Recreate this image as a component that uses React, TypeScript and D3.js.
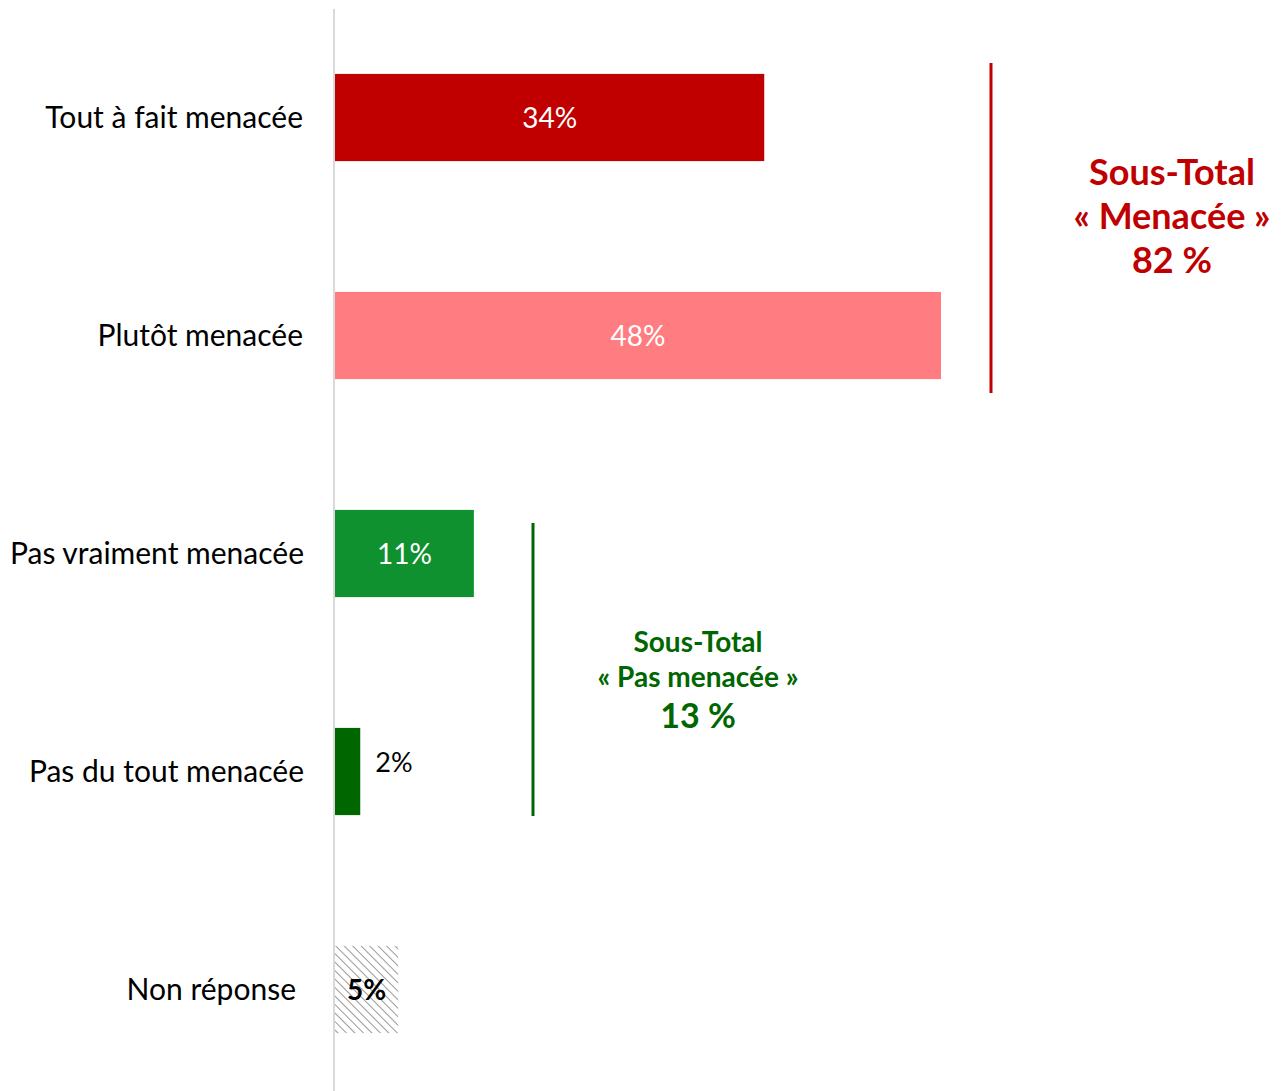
import React from "react";
import * as d3 from "d3";

const categories = ["Tout à fait menacée", "Plutôt menacée", "Pas vraiment menacée", "Pas du tout menacée", "Non réponse"];
const values = [34, 48, 11, 2, 5];
const colors = ["#C00000", "#FF7C80", "#109130", "#006600", "url(#hatch)"];
const labelInside = [true, true, true, false, true];
const labelRight = [303, 303, 304, 304, 296];
const groupTotals = [
  { lines: ["Sous-Total", "« Menacée »", "82 %"], color: "#C00000" },
  { lines: ["Sous-Total", "« Pas menacée »", "13 %"], color: "#006600" },
];

const W = 1287;
const H = 1091;
const FONT = "Lato, 'Open Sans', sans-serif";

export default function App() {
  const x = d3.scaleLinear().domain([0, 48]).range([335, 941]);
  const y = d3.scaleBand<string>().domain(categories).range([8.5, 1098.5]).paddingInner(0.6).paddingOuter(0.3);
  const bw = y.bandwidth();

  return (
    <svg width={W} height={H} style={{ position: "absolute", left: 0, top: 0, fontFamily: FONT }}>
      <defs>
        <pattern id="hatch" patternUnits="userSpaceOnUse" width="6" height="6" patternTransform="rotate(-45)">
          <rect width="6" height="6" fill="#fff" />
          <line x1="0" y1="0" x2="0" y2="6" stroke="#9a9a9a" strokeWidth="2" />
        </pattern>
      </defs>
      {categories.map((c, i) => {
        const yc = (y(c) as number) + bw / 2;
        return (
          <g key={c}>
            <rect x={x(0)} y={y(c)} width={x(values[i]) - x(0)} height={bw} fill={colors[i]} />
            <text x={labelRight[i]} y={yc} dy="0.35em" textAnchor="end" fontSize={30} fill="#000">{c}</text>
            {labelInside[i] ? (
              <text
                x={(x(0) + x(values[i])) / 2}
                y={yc + 1}
                dy="0.35em"
                textAnchor="middle"
                fontSize={28}
                fontWeight={i === 4 ? "bold" : "normal"}
                fill={i === 4 ? "#000" : "#fff"}
              >
                {values[i]}%
              </text>
            ) : (
              <text x={x(values[i]) + 15} y={yc - 9} dy="0.35em" fontSize={27} fill="#000">{values[i]}%</text>
            )}
          </g>
        );
      })}
      <line x1={334} x2={334} y1={9} y2={H} stroke="#d9d9d9" strokeWidth={2} />
      <line x1={991} x2={991} y1={(y(categories[0]) as number) - 11} y2={(y(categories[1]) as number) + bw + 14} stroke={groupTotals[0].color} strokeWidth={3} />
      <g fill={groupTotals[0].color} fontWeight="bold" textAnchor="middle" fontSize={36}>
        <text x={1172} y={172} dy="0.35em">{groupTotals[0].lines[0]}</text>
        <text x={1172} y={216} dy="0.35em">{groupTotals[0].lines[1]}</text>
        <text x={1172} y={260} dy="0.35em">{groupTotals[0].lines[2]}</text>
      </g>
      <line x1={533} x2={533} y1={(y(categories[2]) as number) + 13} y2={(y(categories[3]) as number) + bw + 1} stroke={groupTotals[1].color} strokeWidth={3} />
      <g fill={groupTotals[1].color} fontWeight="bold" textAnchor="middle">
        <text x={698} y={642} dy="0.35em" fontSize={28}>{groupTotals[1].lines[0]}</text>
        <text x={698} y={677} dy="0.35em" fontSize={28}>{groupTotals[1].lines[1]}</text>
        <text x={698} y={716} dy="0.35em" fontSize={34}>{groupTotals[1].lines[2]}</text>
      </g>
    </svg>
  );
}
